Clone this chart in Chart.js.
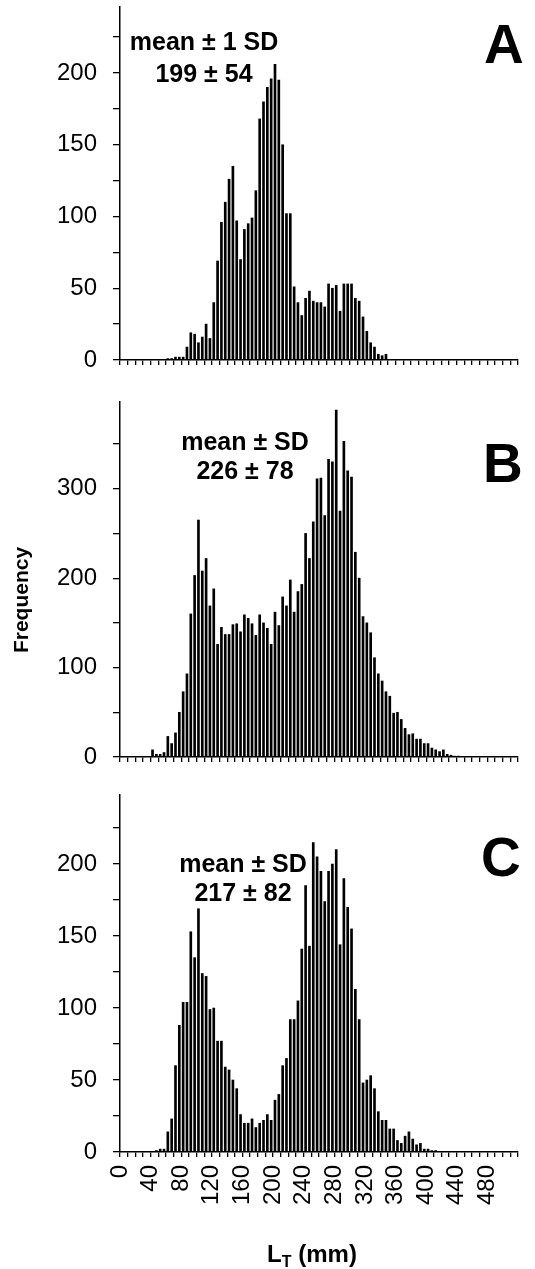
<!DOCTYPE html>
<html>
<head>
<meta charset="utf-8">
<script src="https://cdn.jsdelivr.net/npm/chart.js@4.4.0/dist/chart.umd.min.js"></script>
<style>
  body { margin: 0; background: #fff; width: 535px; height: 1269px; position: relative; overflow: hidden; }
  canvas { position: absolute; left: 0; }
  #textos { position: absolute; left: 0; top: 0; }
</style>
</head>
<body>
<canvas id="panelA" width="535" height="372" style="top:0px"></canvas>
<canvas id="panelB" width="535" height="374" style="top:395px"></canvas>
<canvas id="panelC" width="535" height="424" style="top:788px"></canvas>

<svg id="textos" width="535" height="1269" font-family="Liberation Sans, Arial, sans-serif" font-weight="bold" fill="#000">
  <text x="204" y="50" text-anchor="middle" font-size="25">mean ± 1 SD</text>
  <text x="204" y="82" text-anchor="middle" font-size="25">199 ± 54</text>
  <text x="245" y="450" text-anchor="middle" font-size="25">mean ± SD</text>
  <text x="245" y="479" text-anchor="middle" font-size="25">226 ± 78</text>
  <text x="243" y="872" text-anchor="middle" font-size="25">mean ± SD</text>
  <text x="243" y="901" text-anchor="middle" font-size="25">217 ± 82</text>
  <text x="484" y="63" font-size="55">A</text>
  <text x="483" y="482" font-size="55">B</text>
  <text x="481" y="876" font-size="55">C</text>
  <text transform="translate(28,600) rotate(-90)" text-anchor="middle" font-size="21">Frequency</text>
  <text x="312" y="1262" text-anchor="middle" font-size="24">L<tspan font-size="16" dy="5">T</tspan><tspan font-size="24" dy="-5"> (mm)</tspan></text>
</svg>

<script>
// limite inferior de cada clase (mm), clases de 5 mm
const binLow = [40, 45, 50, 55, 60, 65, 70, 75, 80, 85, 90, 95, 100, 105, 110, 115, 120, 125, 130, 135,
  140, 145, 150, 155, 160, 165, 170, 175, 180, 185, 190, 195, 200, 205, 210, 215, 220, 225, 230, 235,
  240, 245, 250, 255, 260, 265, 270, 275, 280, 285, 290, 295, 300, 305, 310, 315, 320, 325, 330, 335,
  340, 345, 350, 355, 360, 365, 370, 375, 380, 385, 390, 395, 400, 405, 410, 415, 420, 425, 430, 435,
  440, 445]

const frecA = [0, 0, 0, 0, 1, 1, 2, 2, 2, 9, 19, 18, 12, 16, 25, 15, 40, 69, 96, 110,
  126, 135, 97, 70, 91, 95, 99, 118, 168, 180, 190, 196, 206, 195, 150, 102, 102, 51, 40, 31,
  43, 48, 41, 40, 40, 37, 53, 50, 52, 34, 53, 53, 53, 43, 41, 30, 20, 12, 9, 4,
  3, 4, 0, 0, 0, 0, 0, 0, 0, 0, 0, 0, 0, 0, 0, 0, 0, 0, 0, 0,
  0, 0]

const frecB = [8, 3, 3, 5, 23, 15, 27, 50, 73, 93, 160, 203, 265, 208, 222, 169, 188, 126, 145, 137,
  137, 148, 149, 140, 159, 155, 149, 136, 159, 150, 144, 126, 162, 147, 179, 169, 198, 162, 185, 193,
  250, 222, 263, 311, 312, 270, 333, 330, 388, 275, 353, 320, 313, 229, 200, 157, 150, 139, 111, 93,
  85, 73, 68, 49, 50, 42, 32, 25, 26, 20, 20, 15, 15, 10, 8, 6, 8, 3, 2, 1,
  1, 0]

const frecC = [0, 1, 2, 2, 14, 23, 60, 88, 104, 104, 153, 135, 169, 124, 122, 99, 100, 77, 77, 59,
  57, 50, 44, 26, 20, 20, 23, 17, 20, 22, 26, 22, 36, 40, 60, 65, 92, 92, 105, 141,
  185, 143, 215, 205, 195, 174, 195, 200, 210, 144, 190, 170, 155, 113, 92, 48, 50, 53, 44, 28,
  22, 22, 16, 16, 8, 6, 11, 14, 9, 5, 6, 2, 2, 1, 1, 0, 0, 0, 0, 0,
  0, 0]

const xEtiquetas = [0, 40, 80, 120, 160, 200, 240, 280, 320, 360, 400, 440, 480]
const yEtiquetasAC = [0, 50, 100, 150, 200]
const yEtiquetasB = [0, 100, 200, 300]

const fuente = { family: "'Liberation Sans', Arial, sans-serif", size: 24 }

function crearPanel(id, valores, yMax, yPaso, yEtiquetas, conEtiquetasX) {
  const puntos = binLow.map((b, i) => ({ x: b + 2.5, y: valores[i] }))
  const altoX = conEtiquetasX ? 60 : 12

  return new Chart(document.getElementById(id), {
    type: 'bar',
    data: {
      datasets: [{
        data: puntos,
        backgroundColor: '#000',
        barThickness: 2
      }]
    },
    options: {
      responsive: false,
      animation: false,
      devicePixelRatio: 1,
      layout: { padding: { top: 7, right: 17, left: 0, bottom: 0 } },
      plugins: { legend: { display: false }, tooltip: { enabled: false } },
      scales: {
        x: {
          type: 'linear',
          min: 0,
          max: 520,
          offset: false,
          border: { display: true, color: '#000', width: 1.5 },
          grid: { offset: false, drawOnChartArea: false, drawTicks: true, tickLength: 5, color: '#000', lineWidth: 1.3 },
          ticks: {
            display: conEtiquetasX,
            stepSize: 10,
            includeBounds: false,
            autoSkip: false,
            minRotation: 90,
            maxRotation: 90,
            padding: 8,
            color: '#000',
            font: fuente,
            callback: v => xEtiquetas.includes(v) ? String(v) : ''
          },
          afterFit: s => { s.height = altoX; s.paddingLeft = 0; s.paddingRight = 0 }
        },
        y: {
          min: 0,
          max: yMax,
          border: { display: true, color: '#000', width: 1.5 },
          grid: { drawOnChartArea: false, drawTicks: true, tickLength: 7, color: '#000', lineWidth: 1.3 },
          ticks: {
            stepSize: yPaso,
            includeBounds: false,
            autoSkip: false,
            padding: 16,
            color: '#000',
            font: fuente,
            callback: v => yEtiquetas.includes(v) ? String(v) : ''
          },
          afterFit: s => { s.width = 120; s.paddingTop = 0; s.paddingBottom = 0 }
        }
      }
    }
  })
}

crearPanel('panelA', frecA, 246, 25, yEtiquetasAC, false)
crearPanel('panelB', frecB, 397, 50, yEtiquetasB, false)
crearPanel('panelC', frecC, 248, 25, yEtiquetasAC, true)
</script>
</body>
</html>
